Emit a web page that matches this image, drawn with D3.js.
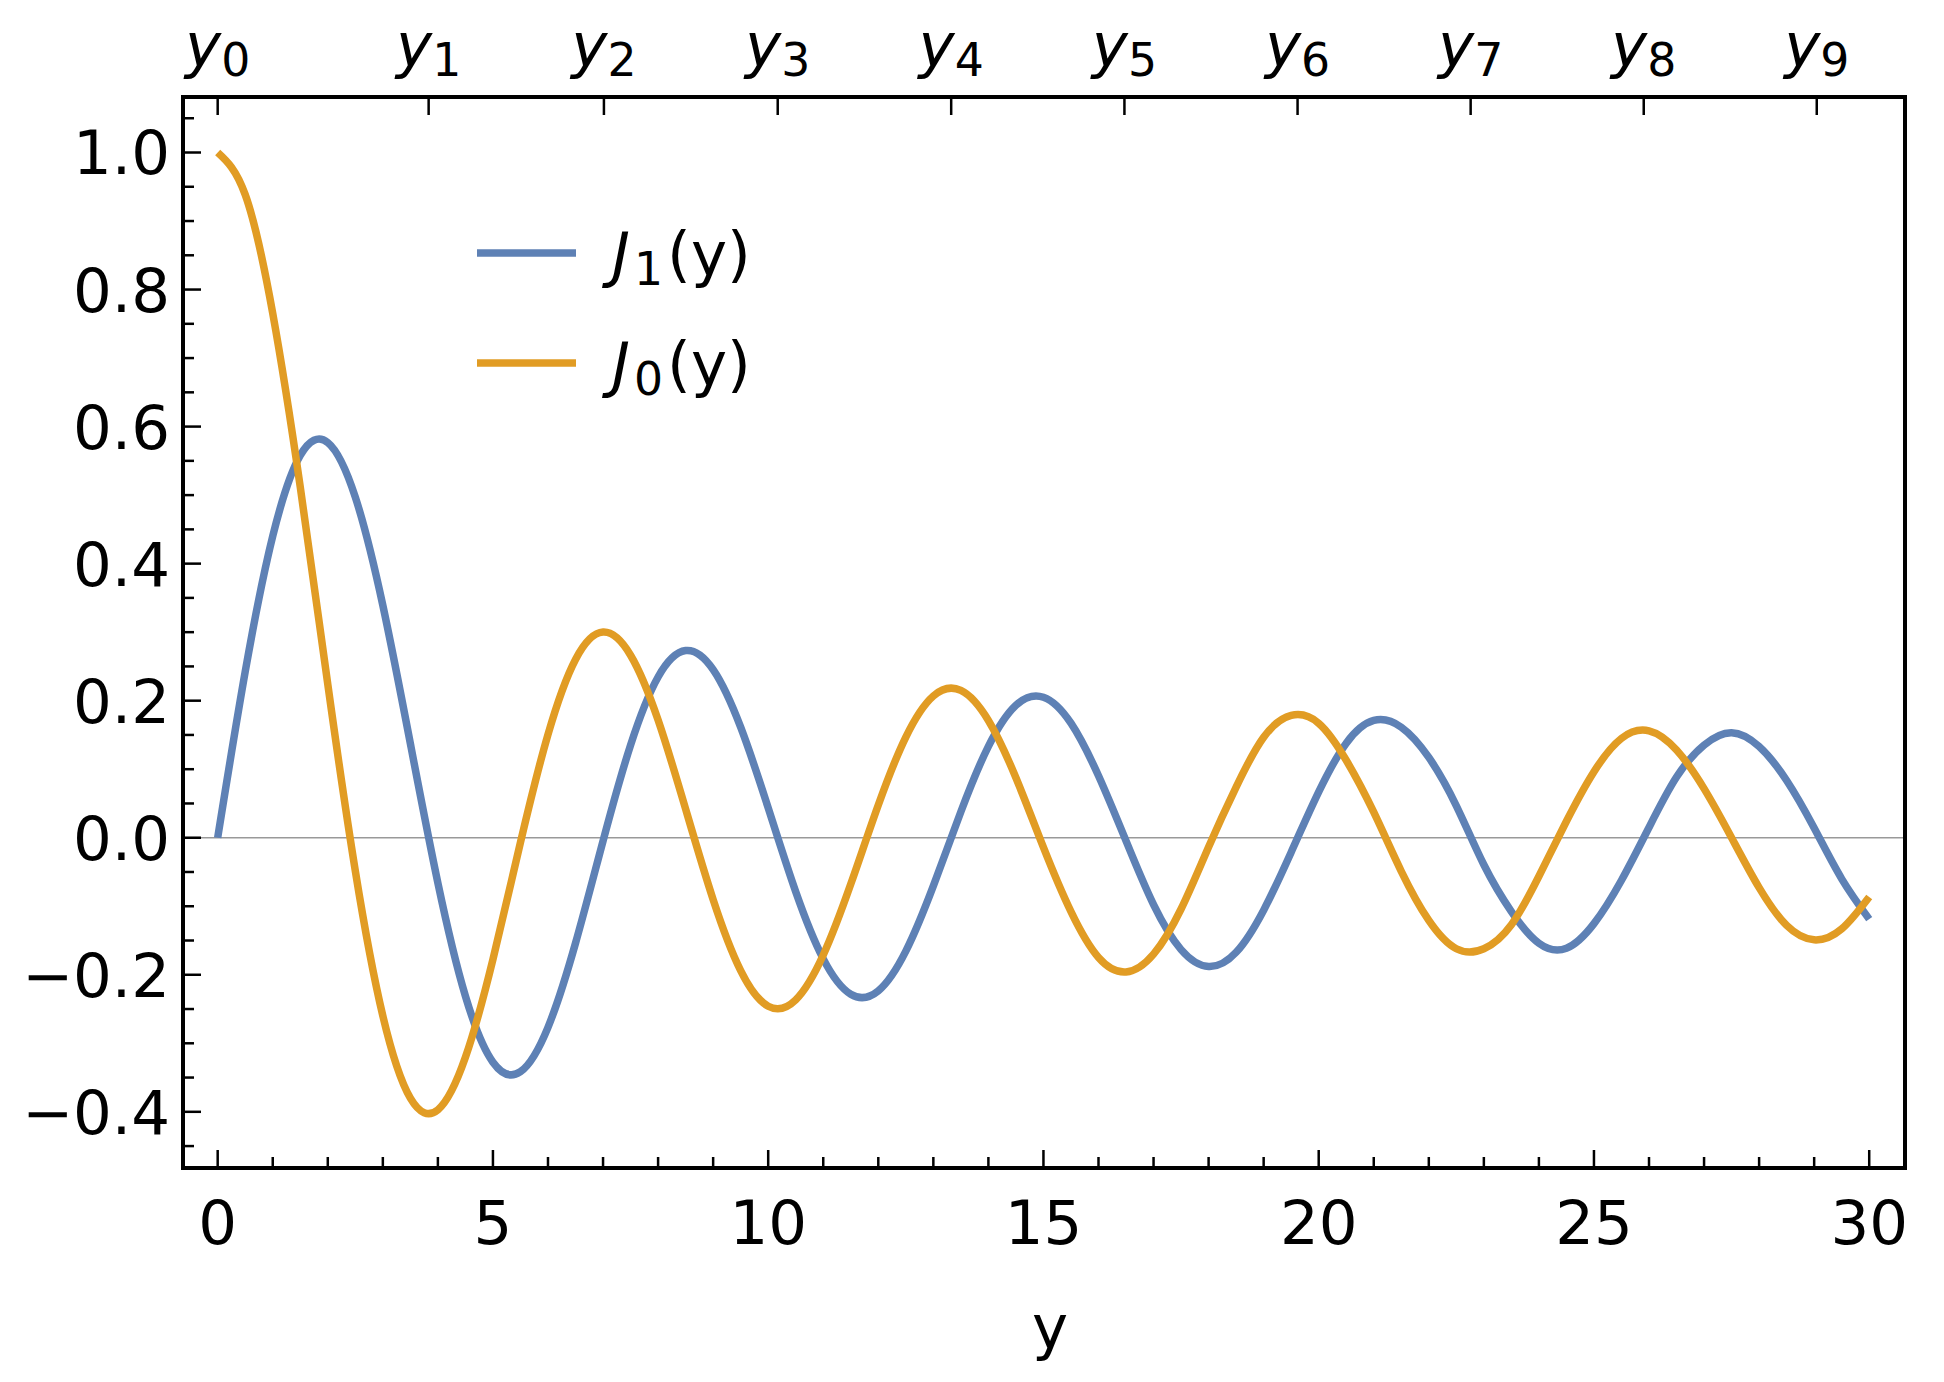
<!DOCTYPE html>
<html>
<head>
<meta charset="utf-8">
<script src="https://cdn.jsdelivr.net/npm/d3@7"></script>
<style>
  body { margin: 0; background: #fff; }
  text { font-family: "DejaVu Sans", sans-serif; fill: #000; }
</style>
</head>
<body>
<svg id="chart" width="1944" height="1382"></svg>
<script>
// sample positions (step 0.5) and values
const xs = d3.range(0, 30.01, 0.5);
const j0 = [1, .9385, .7652, .5118, .2239, -.0484, -.2601, -.3801, -.3971, -.3205,
  -.1776, -.0068, .1506, .2601, .3001, .2663, .1717, .0419, -.0903, -.1939,
  -.2459, -.2366, -.1712, -.0677, .0477, .1469, .2069, .2150, .1711, .0875,
  -.0142, -.1080, -.1749, -.1960, -.1699, -.1040, -.0134, .0740, .1466, .1784,
  .1670, .1131, .0372, -.0490, -.1207, -.1620, -.1620, -.1270, -.0562, .0240,
  .0963, .1450, .1560, .1280, .0717, .0000, -.0729, -.1280, -.1490, -.1330, -.0864];
const j1 = [0, .2423, .4401, .5579, .5767, .4971, .3391, .1374, -.0660, -.2311,
  -.3276, -.3414, -.2767, -.1538, -.0047, .1352, .2346, .2731, .2453, .1613,
  .0435, -.0789, -.1768, -.2284, -.2234, -.1655, -.0703, .0380, .1334, .1934,
  .2051, .1672, .0904, -.0047, -.0977, -.1633, -.1880, -.1672, -.1057, -.0211,
  .0668, .1380, .1711, .1613, .1172, .0466, -.0395, -.1078, -.1540, -.1613,
  -.1254, -.0621, .0150, .0885, .1352, .1532, .1330, .0836, .0142, -.0600, -.1188];
// top axis: zeros of J1
const topTicks = [0, 3.832, 7.016, 10.173, 13.324, 16.471, 19.616, 22.760, 25.904, 29.047];
const xTicks = [0, 5, 10, 15, 20, 25, 30];
const yTicks = [-0.4, -0.2, 0, 0.2, 0.4, 0.6, 0.8, 1.0];
const series = [
  { name: "1", values: j1, color: "#5e81b5" },
  { name: "0", values: j0, color: "#e19c24" }
];

const svg = d3.select("#chart");
const L = 183, R = 1905, T = 97, B = 1168;
const x = d3.scaleLinear().domain([-0.63, 30.65]).range([L, R]);
const y = d3.scaleLinear().domain([-0.482, 1.081]).range([B, T]);
const fs = 61;

// zero line
svg.append("line").attr("x1", L).attr("x2", R).attr("y1", y(0)).attr("y2", y(0))
  .attr("stroke", "#999").attr("stroke-width", 1.5);

// curves
const line = d3.line().x((d, i) => x(xs[i])).y(d => y(d)).curve(d3.curveNatural);
series.forEach(s => {
  svg.append("path").attr("d", line(s.values)).attr("fill", "none")
    .attr("stroke", s.color).attr("stroke-width", 7.5);
});

// ticks
const tk = svg.append("g").attr("stroke", "#000").attr("stroke-width", 2.5);
d3.range(0, 30.5, 1).forEach(v => {
  const len = v % 5 === 0 ? 18 : 11;
  tk.append("line").attr("x1", x(v)).attr("x2", x(v)).attr("y1", B).attr("y2", B - len);
});
topTicks.forEach(v => {
  tk.append("line").attr("x1", x(v)).attr("x2", x(v)).attr("y1", T).attr("y2", T + 18);
});
d3.range(-0.45, 1.051, 0.05).forEach(v => {
  const major = Math.abs(Math.round(v * 100) % 20) === 0;
  tk.append("line").attr("x1", L).attr("x2", L + (major ? 18 : 11))
    .attr("y1", y(v)).attr("y2", y(v));
});

// frame
svg.append("rect").attr("x", L).attr("y", T).attr("width", R - L).attr("height", B - T)
  .attr("fill", "none").attr("stroke", "#000").attr("stroke-width", 4);

// tick labels
xTicks.forEach(v => {
  svg.append("text").attr("x", x(v)).attr("y", 1244).attr("text-anchor", "middle")
    .attr("font-size", fs).text(v);
});
yTicks.forEach(v => {
  svg.append("text").attr("x", 170).attr("y", y(v)).attr("dy", "0.36em")
    .attr("text-anchor", "end").attr("font-size", fs)
    .text(v < 0 ? "\u2212" + Math.abs(v).toFixed(1) : v.toFixed(1));
});
topTicks.forEach((v, i) => {
  const t = svg.append("text").attr("x", x(v)).attr("y", 66).attr("text-anchor", "middle")
    .attr("font-size", fs);
  t.append("tspan").attr("font-style", "italic").text("y");
  t.append("tspan").attr("font-size", fs * 0.75).attr("dy", 10).text(i);
});

// axis label
svg.append("text").attr("x", 1050).attr("y", 1348).attr("text-anchor", "middle")
  .attr("font-size", fs).text("y");

// legend
series.forEach((s, i) => {
  const ly = 253 + i * 110;
  svg.append("line").attr("x1", 477).attr("x2", 576).attr("y1", ly).attr("y2", ly)
    .attr("stroke", s.color).attr("stroke-width", 7.5);
  const t = svg.append("text").attr("x", 612).attr("y", ly).attr("dy", "0.36em")
    .attr("font-size", fs);
  t.append("tspan").attr("font-style", "italic").text("J");
  t.append("tspan").attr("font-size", fs * 0.75).attr("dx", 4).attr("dy", 10).text(s.name);
  t.append("tspan").attr("dx", 4).attr("dy", -10).text("(y)");
});
</script>
</body>
</html>
